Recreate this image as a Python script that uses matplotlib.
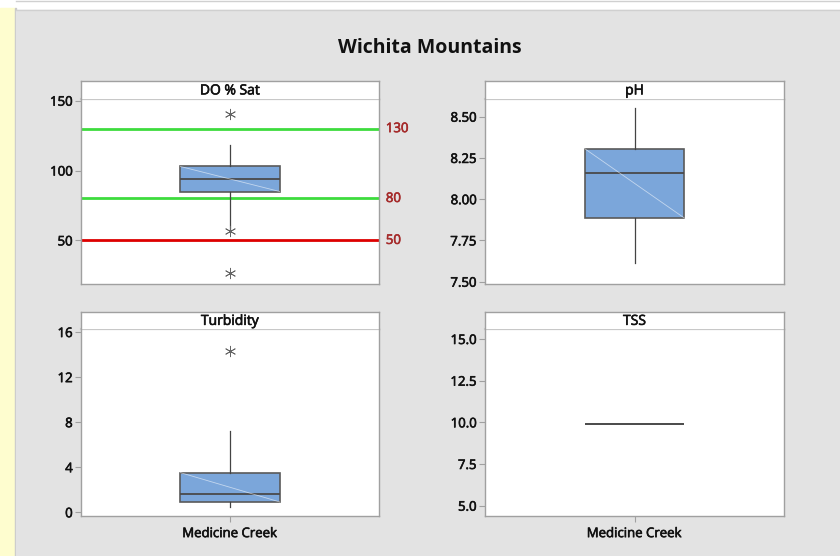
import matplotlib
matplotlib.use("Agg")
import matplotlib.pyplot as plt
import matplotlib.patheffects as pe
from matplotlib.patches import Rectangle

plt.rcParams['font.family'] = ['Open Sans', 'DejaVu Sans']

title = "Wichita Mountains"
site = "Medicine Creek"

# Box statistics per parameter: q1, median, q3, whisker low/high, outliers
panels = ["DO % Sat", "pH", "Turbidity", "TSS"]
do_stats = dict(q1=85.0, med=94.3, q3=102.9, whislo=58.0, whishi=118.0, fliers=[140.2, 56.4, 26.6])
ph_stats = dict(q1=7.886, med=8.161, q3=8.306, whislo=7.615, whishi=8.551, fliers=[])
turb_stats = dict(q1=0.92, med=1.63, q3=3.52, whislo=0.5, whishi=7.2, fliers=[14.3])
tss_stats = dict(q1=9.93, med=9.93, q3=9.93, whislo=9.93, whishi=9.93, fliers=[])

# Reference criteria for DO % saturation
do_refs = [130, 80, 50]
do_ref_colors = ["#3ddc3d", "#3ddc3d", "#dd0000"]

ylims = [(18.8, 151.2), (7.486, 8.607), (-0.33, 16.27), (4.38, 15.6)]
yticks = [[50, 100, 150], [7.50, 7.75, 8.00, 8.25, 8.50], [0, 4, 8, 12, 16], [5.0, 7.5, 10.0, 12.5, 15.0]]
yfmt = ["{:.0f}", "{:.2f}", "{:.0f}", "{:.1f}"]

W, H = 840, 556
fig = plt.figure(figsize=(W / 100, H / 100), dpi=100)
fig.patch.set_facecolor("white")


def px_rect(x0, y0, x1, y1):
    """Pixel box (top-left origin) -> figure fraction rect."""
    return [x0 / W, 1 - y1 / H, (x1 - x0) / W, (y1 - y0) / H]


def heavier(color):
    """Thin outline that gives regular-weight glyphs a semibold look."""
    return [pe.withStroke(linewidth=0.45, foreground=color)]


# Window background pieces
bg = fig.add_axes([0, 0, 1, 1], zorder=-10)
bg.set_xlim(0, W)
bg.set_ylim(H, 0)
bg.axis("off")
bg.add_patch(Rectangle((0, 0), W, H, color="white"))
bg.add_patch(Rectangle((0, 8), 14.5, H, color="#fefdcf"))
bg.add_patch(Rectangle((14.5, 8), 1.2, H, color="#c8c8c8"))
bg.add_patch(Rectangle((16, 10), W, H, color="#e3e3e3"))
bg.plot([16, W], [0.5, 0.5], color="#d0d0d0", lw=1)
bg.plot([16, W], [10.2, 10.2], color="#d0d0d0", lw=1)

fig.text(430 / W, 1 - 48 / H, title, ha="center", va="center",
         fontsize=14, fontweight="bold", color="#111111")

layout = [
    (81, 99, 379, 284, 81),
    (485, 99, 784, 284, 81),
    (81, 329, 379, 516, 312),
    (485, 329, 784, 516, 312),
]
stats_list = [do_stats, ph_stats, turb_stats, tss_stats]
frame_col = "#a0a0a0"
ink = "#111111"
box_w = 0.333

for i, (name, st, (x0, y0, x1, y1, hy)) in enumerate(zip(panels, stats_list, layout)):
    ax = fig.add_axes(px_rect(x0, y0, x1, y1))
    ax.set_facecolor("white")
    ax.set_xlim(0.5, 1.5)
    ax.set_ylim(*ylims[i])
    for sp in ax.spines.values():
        sp.set_color(frame_col)
        sp.set_linewidth(1.0)
    ax.spines["top"].set_color("#c8c8c8")
    ax.spines["top"].set_linewidth(1.6)

    bxp_stats = [dict(st, label="")]
    ax.bxp(bxp_stats, positions=[1], widths=box_w, patch_artist=True,
           showcaps=False, flierprops=dict(marker=(6, 2, 0), markersize=8,
                                            markeredgecolor="#666666", markeredgewidth=0.6,
                                            linestyle="none"),
           boxprops=dict(facecolor="#7ba6da", edgecolor="#5a5a5a", linewidth=1.2),
           medianprops=dict(color="#4a4a4a", linewidth=1.3),
           whiskerprops=dict(color="#444444", linewidth=0.9))
    if st["q3"] > st["q1"]:
        ax.plot([1 - box_w / 2, 1 + box_w / 2], [st["q3"], st["q1"]],
                color="white", lw=0.6, alpha=0.55, zorder=3)

    ax.set_yticks(yticks[i])
    ax.set_yticklabels([yfmt[i].format(v) for v in yticks[i]])
    ax.tick_params(axis="y", length=4, width=0.8, color=frame_col, pad=2,
                   labelsize=9.5, labelcolor=ink)
    for lab in ax.get_yticklabels():
        lab.set_path_effects(heavier(ink))
    if i >= 2:
        ax.set_xticks([1])
        ax.set_xticklabels([site])
        ax.tick_params(axis="x", length=4, width=0.8, color=frame_col, pad=4,
                       labelsize=9.5, labelcolor=ink)
        for lab in ax.get_xticklabels():
            lab.set_path_effects(heavier(ink))
    else:
        ax.set_xticks([])

    if i == 0:
        for ref, col in zip(do_refs, do_ref_colors):
            ax.axhline(ref, color=col, lw=2.0, zorder=1.5)
            ax.text(1.5, ref, f"  {ref}", ha="left", va="center", fontsize=9.5,
                    color="#a52a2a", clip_on=False, path_effects=heavier("#a52a2a"))

    hdr = fig.add_axes(px_rect(x0, hy, x1, y0))
    hdr.set_facecolor("white")
    hdr.set_xticks([])
    hdr.set_yticks([])
    for sp in hdr.spines.values():
        sp.set_color(frame_col)
        sp.set_linewidth(1.0)
    hdr.spines["bottom"].set_visible(False)
    hdr.text(0.5, 0.45, name, ha="center", va="center", fontsize=10,
             color=ink, transform=hdr.transAxes, path_effects=heavier(ink))

fig.savefig("out.png", dpi=100, facecolor=fig.get_facecolor())
